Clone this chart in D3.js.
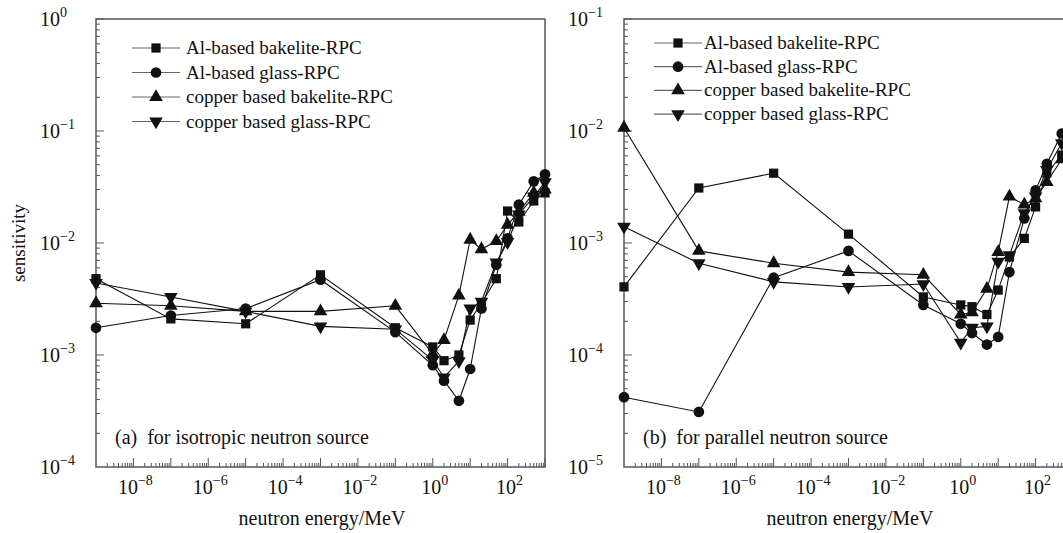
<!DOCTYPE html>
<html>
<head>
<meta charset="utf-8">
<script src="https://cdn.jsdelivr.net/npm/d3@7"></script>
<style>
  body { margin: 0; background: #fff; }
  text { fill: #111; }
</style>
</head>
<body>
<div id="chart"></div>
<script>
// neutron energies (MeV)
var energies = [1e-9, 1e-7, 1e-5, 1e-3, 1e-1, 1, 2, 5, 10, 20, 50, 100, 200, 500, 1000];

var seriesNames = ["Al-based bakelite-RPC", "Al-based glass-RPC", "copper based bakelite-RPC", "copper based glass-RPC"];

// (a) isotropic source
var alBakeliteIso = [4.8e-3, 2.1e-3, 1.9e-3, 5.2e-3, 1.75e-3, 1.18e-3, 8.9e-4, 1.0e-3, 2.05e-3, 2.9e-3, 4.8e-3, 1.93e-2, 1.54e-2, 2.37e-2, 2.8e-2];
var alGlassIso    = [1.75e-3, 2.25e-3, 2.6e-3, 4.7e-3, 1.6e-3, 8.1e-4, 5.9e-4, 3.9e-4, 7.5e-4, 2.6e-3, 6.4e-3, 1.1e-2, 2.2e-2, 3.55e-2, 4.1e-2];
var cuBakeliteIso = [2.9e-3, 2.75e-3, 2.45e-3, 2.45e-3, 2.75e-3, 1.02e-3, 1.36e-3, 3.4e-3, 1.07e-2, 8.8e-3, 1.04e-2, 1.45e-2, 1.9e-2, 2.8e-2, 3.0e-2];
var cuGlassIso    = [4.4e-3, 3.3e-3, 2.45e-3, 1.8e-3, 1.7e-3, 9.0e-4, 6.3e-4, 8.8e-4, 2.6e-3, 3.0e-3, 6.7e-3, 1.02e-2, 1.8e-2, 2.6e-2, 3.5e-2];

// (b) parallel source
var alBakelitePar = [4.06e-4, 3.1e-3, 4.2e-3, 1.2e-3, 3.3e-4, 2.8e-4, 2.7e-4, 2.3e-4, 3.8e-4, 7.5e-4, 1.1e-3, 2.1e-3, 4.2e-3, 6.1e-3, 1.0e-2];
var alGlassPar    = [4.2e-5, 3.1e-5, 4.9e-4, 8.5e-4, 2.8e-4, 1.9e-4, 1.57e-4, 1.24e-4, 1.45e-4, 5.5e-4, 1.66e-3, 2.95e-3, 5.1e-3, 9.5e-3, 1.5e-2];
var cuBakelitePar = [1.07e-2, 8.5e-4, 6.6e-4, 5.5e-4, 5.2e-4, 2.3e-4, 2.4e-4, 3.9e-4, 8.3e-4, 2.6e-3, 2.2e-3, 2.5e-3, 3.5e-3, 5.6e-3, 9e-3];
var cuGlassPar    = [1.4e-3, 6.6e-4, 4.5e-4, 4.05e-4, 4.3e-4, 1.29e-4, 1.75e-4, 1.8e-4, 6.8e-4, 7.8e-4, 1.85e-3, 2.6e-3, 4.5e-3, 7.8e-3, 1.2e-2];

var xTickExps = [-8, -6, -4, -2, 0, 2];

var svg = d3.select("#chart").append("svg")
  .attr("width", 1063)
  .attr("height", 533)
  .attr("font-family", "'Liberation Serif', 'Times New Roman', serif");

var symbols = [
  {type: d3.symbolSquare, size: 85, rot: 0},
  {type: d3.symbolCircle, size: 90, rot: 0},
  {type: d3.symbolTriangle, size: 80, rot: 0},
  {type: d3.symbolTriangle, size: 80, rot: 180}
];

function supLabel(sel, exp) {
  sel.append("tspan").text("10");
  sel.append("tspan")
    .attr("dy", -9)
    .attr("font-size", 14)
    .text(exp < 0 ? "\u2212" + Math.abs(exp) : String(exp));
}

function drawPanel(p) {
  var x = d3.scaleLog().domain([1e-9, 1e3]).range([p.left, p.left + 449]);
  var y = d3.scaleLog().domain(p.yDomain).range([467, 19]);
  var g = svg.append("g");
  var frame = "#555";

  // box
  g.append("rect")
    .attr("x", p.left).attr("y", 19)
    .attr("width", 449).attr("height", 448)
    .attr("fill", "none").attr("stroke", frame).attr("stroke-width", 1.5);

  // x ticks (inside, pointing up)
  for (var e = -9; e < 3; e++) {
    for (var m = 2; m <= 10; m++) {
      var v = m * Math.pow(10, e);
      g.append("line")
        .attr("x1", x(v)).attr("x2", x(v))
        .attr("y1", 467).attr("y2", 467 - (m === 10 ? 9 : 4))
        .attr("stroke", frame).attr("stroke-width", 1);
    }
  }
  // y ticks (inside, pointing right)
  var lo = Math.log10(p.yDomain[0]), hi = Math.log10(p.yDomain[1]);
  for (var k = lo; k < hi; k++) {
    for (var mm = 2; mm <= 10; mm++) {
      var vy = mm * Math.pow(10, k);
      g.append("line")
        .attr("x1", p.left).attr("x2", p.left + (mm === 10 ? 8 : 4))
        .attr("y1", y(vy)).attr("y2", y(vy))
        .attr("stroke", frame).attr("stroke-width", 1);
    }
  }

  // x tick labels
  xTickExps.forEach(function(ex) {
    var t = g.append("text")
      .attr("x", x(Math.pow(10, ex)) + 2)
      .attr("y", 494)
      .attr("text-anchor", "middle")
      .attr("font-size", 20);
    supLabel(t, ex);
  });
  // y tick labels
  for (var j = lo; j <= hi; j++) {
    var ty = g.append("text")
      .attr("x", p.left - 56)
      .attr("y", y(Math.pow(10, j)) + 7)
      .attr("font-size", 20);
    supLabel(ty, j);
  }

  g.append("text")
    .attr("x", p.left + 226).attr("y", 525)
    .attr("text-anchor", "middle")
    .attr("font-size", 20)
    .text("neutron energy/MeV");

  g.append("text")
    .attr("x", p.left + 19).attr("y", 444)
    .attr("font-size", 20)
    .attr("xml:space", "preserve")
    .text(p.note);

  var line = d3.line()
    .x(function(d) { return x(d[0]); })
    .y(function(d) { return y(d[1]); });

  var clipId = "clip" + p.left;
  svg.append("clipPath").attr("id", clipId)
    .append("rect").attr("x", p.left - 8).attr("y", 10).attr("width", 465).attr("height", 465);

  var plot = g.append("g").attr("clip-path", "url(#" + clipId + ")");

  p.series.forEach(function(vals, i) {
    var pts = energies.map(function(en, n) { return [en, vals[n]]; });
    plot.append("path")
      .datum(pts)
      .attr("d", line)
      .attr("fill", "none")
      .attr("stroke", "#111")
      .attr("stroke-width", 1.1);
  });
  p.series.forEach(function(vals, i) {
    var s = symbols[i];
    plot.selectAll(null)
      .data(energies.map(function(en, n) { return [en, vals[n]]; }))
      .enter().append("path")
      .attr("d", d3.symbol().type(s.type).size(s.size))
      .attr("transform", function(d) { return "translate(" + x(d[0]) + "," + y(d[1]) + ") rotate(" + s.rot + ")"; })
      .attr("fill", "#111");
  });

  // legend
  seriesNames.forEach(function(name, i) {
    var ly = p.legY + i * p.legStep;
    var s = symbols[i];
    g.append("line")
      .attr("x1", p.legX).attr("x2", p.legX + p.legLen)
      .attr("y1", ly).attr("y2", ly)
      .attr("stroke", "#666").attr("stroke-width", 1.2);
    g.append("path")
      .attr("d", d3.symbol().type(s.type).size(s.size))
      .attr("transform", "translate(" + (p.legX + p.legLen / 2) + "," + ly + ") rotate(" + s.rot + ")")
      .attr("fill", "#111");
    g.append("text")
      .attr("x", p.legX + p.legLen + p.legGap)
      .attr("y", ly + 6)
      .attr("font-size", 19)
      .text(name);
  });
}

drawPanel({
  left: 96,
  yDomain: [1e-4, 1],
  series: [alBakeliteIso, alGlassIso, cuBakeliteIso, cuGlassIso],
  note: "(a)  for isotropic neutron source",
  legX: 132, legLen: 48, legGap: 6, legY: 48, legStep: 24.5
});

drawPanel({
  left: 624,
  yDomain: [1e-5, 1e-1],
  series: [alBakelitePar, alGlassPar, cuBakelitePar, cuGlassPar],
  note: "(b)  for parallel neutron source",
  legX: 654, legLen: 48, legGap: 2, legY: 43, legStep: 23.7
});

svg.append("text")
  .attr("transform", "translate(25,243) rotate(-90)")
  .attr("text-anchor", "middle")
  .attr("font-size", 19)
  .text("sensitivity");
</script>
</body>
</html>
